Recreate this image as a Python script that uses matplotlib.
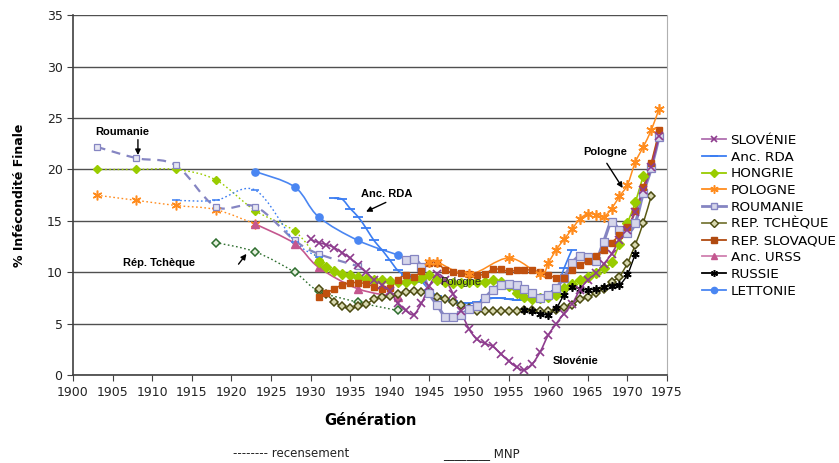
import numpy as np
import matplotlib.pyplot as plt
from matplotlib.path import Path
from matplotlib.patches import PathPatch
from matplotlib.lines import Line2D

# --- recensement (census) cohorts, dotted/dashed ---
hon_rec_x = [1903, 1908, 1913, 1918, 1923, 1928, 1931]
hon_rec_y = [20.0, 20.0, 20.0, 19.0, 16.0, 14.0, 11.2]
pol_rec_x = [1903, 1908, 1913, 1918, 1923]
pol_rec_y = [17.5, 17.0, 16.5, 16.1, 14.7]
rou_rec_x = [1903, 1908, 1913, 1918, 1923, 1928, 1931, 1936]
rou_rec_y = [22.2, 21.1, 20.4, 16.4, 16.4, 13.1, 11.8, 10.6]
rda_rec_x = [1913, 1918, 1923, 1928, 1931]
rda_rec_y = [17.0, 17.0, 18.0, 13.0, 11.5]
tch_rec_x = [1918, 1923, 1928, 1931, 1936, 1941]
tch_rec_y = [12.9, 12.0, 10.0, 8.2, 7.1, 6.3]

# --- MNP cohorts, solid ---
slo_x = list(range(1930, 1975))
slo_y = [13.2, 12.9, 12.7, 12.4, 11.9, 11.4, 10.7, 10.0, 9.3, 8.8,
         8.2, 7.0, 6.3, 5.9, 7.0, 8.7, 9.8, 9.3, 7.9, 6.2,
         4.5, 3.5, 3.1, 2.8, 2.1, 1.4, 0.8, 0.5, 1.1, 2.3,
         3.9, 5.0, 6.0, 6.9, 8.3, 9.3, 9.9, 10.8, 11.8, 13.1,
         14.1, 15.9, 18.0, 20.2, 23.3]
rda_x = list(range(1933, 1964))
rda_y = [17.2, 17.1, 16.2, 15.4, 14.3, 13.1, 12.2, 11.2, 10.2, 9.7,
         9.4, 9.1, 8.3, 7.7, 7.4, 7.2, 7.0, 7.0, 7.1, 7.3,
         7.5, 7.5, 7.4, 7.3, 7.4, 7.4, 7.5, 7.6, 8.2, 10.4,
         12.2]
hon_x = list(range(1931, 1973))
hon_y = [11.0, 10.5, 10.1, 9.8, 9.7, 9.6, 9.4, 9.3, 9.25, 9.2,
         9.1, 9.1, 9.3, 9.5, 9.7, 9.3, 9.1, 9.0, 9.0, 9.1,
         9.1, 9.1, 9.3, 9.1, 8.7, 8.0, 7.6, 7.4, 7.5, 7.6,
         7.8, 8.5, 8.9, 9.3, 9.6, 9.9, 10.4, 11.0, 12.8, 14.8,
         16.8, 19.4]
pol_x = [1945, 1946, 1950, 1955, 1959, 1960, 1961, 1962, 1963, 1964,
         1965, 1966, 1967, 1968, 1969, 1970, 1971, 1972, 1973, 1974]
pol_y = [11.0, 11.0, 9.8, 11.4, 9.85, 10.9, 12.2, 13.2, 14.2, 15.2,
         15.7, 15.6, 15.4, 16.2, 17.4, 18.5, 20.7, 22.2, 23.8, 25.9]
rou_x = list(range(1942, 1975))
rou_y = [11.2, 11.3, 10.5, 8.0, 6.8, 5.7, 5.7, 5.9, 6.4, 6.7,
         7.5, 8.3, 8.8, 8.9, 8.8, 8.4, 8.0, 7.5, 7.8, 8.5,
         9.5, 10.9, 11.6, 11.5, 11.1, 13.0, 14.9, 14.1, 13.8, 14.8,
         17.7, 20.1, 23.2]
tch_x = list(range(1931, 1974))
tch_y = [8.4, 7.9, 7.15, 6.7, 6.5, 6.7, 6.9, 7.4, 7.6, 7.7,
         7.9, 8.1, 8.2, 8.1, 8.0, 7.6, 7.4, 7.15, 6.8, 6.5,
         6.25, 6.25, 6.25, 6.25, 6.25, 6.25, 6.3, 6.3, 6.25, 6.2,
         6.35, 6.6, 6.8, 7.4, 7.6, 8.0, 8.4, 9.1, 9.6, 10.9,
         12.7, 14.8, 17.4]
slq_x = list(range(1931, 1975))
slq_y = [7.6, 8.0, 8.4, 8.8, 9.0, 9.0, 8.9, 8.6, 8.4, 8.45,
         9.3, 9.75, 9.6, 10.1, 10.95, 10.95, 10.2, 10.0, 9.9, 9.8,
         9.7, 9.85, 10.3, 10.3, 10.1, 10.2, 10.25, 10.2, 10.0, 9.7,
         9.5, 9.5, 10.2, 10.7, 11.1, 11.6, 12.2, 12.9, 13.6, 14.4,
         16.0, 18.3, 20.6, 23.8]
urs_x = [1923, 1928, 1931, 1936, 1941]
urs_y = [14.7, 12.8, 10.5, 8.4, 7.6]
rus_x = list(range(1957, 1972))
rus_y = [6.3, 6.2, 6.0, 5.9, 6.5, 7.8, 8.6, 8.4, 8.3, 8.4,
         8.6, 8.7, 8.8, 9.8, 11.8]
let_x = [1923, 1928, 1931, 1936, 1941]
let_y = [19.8, 18.3, 15.4, 13.1, 11.7]

C_SLO = '#8E3C8E'
C_RDA = '#3B7DF2'
C_HON = '#99CC00'
C_POL = '#FF8C1E'
C_ROU = '#8585C2'
C_TCH = '#5A5A14'
C_TCH_REC = '#2E6E2E'
C_SLQ = '#C0500E'
C_URS = '#C4578F'
C_RUS = '#000000'
C_LET = '#4A86F2'

STAR = (6, 2, 0)


def smooth_path(x, y):
    # Bezier segments through the points (Excel style smoothed line)
    pts = np.column_stack([x, y]).astype(float)
    n = len(pts)
    verts = [pts[0]]
    codes = [Path.MOVETO]
    for i in range(n - 1):
        p0 = pts[i - 1] if i > 0 else pts[i]
        p1 = pts[i]
        p2 = pts[i + 1]
        p3 = pts[i + 2] if i + 2 < n else pts[i + 1]
        c1 = p1 + (p2 - p0) / 6.0
        c2 = p2 - (p3 - p1) / 6.0
        verts += [c1, c2, p2]
        codes += [Path.CURVE4] * 3
    return Path(verts, codes)


def draw(ax, x, y, color, ls='-', lw=1.1, marker=None, ms=4, mfc=None, mec=None, mew=1.0, z=2):
    ax.add_patch(PathPatch(smooth_path(x, y), fill=False, edgecolor=color,
                           linestyle=ls, linewidth=lw, zorder=z))
    if marker:
        ax.plot(x, y, linestyle='none', marker=marker, markersize=ms,
                markerfacecolor=mfc or color, markeredgecolor=mec or color,
                markeredgewidth=mew, zorder=z + 0.5)


fig = plt.figure(figsize=(8.39, 4.63), dpi=100)
ax = fig.add_axes([0.087, 0.1894, 0.708, 0.778])

dot = (0, (1.2, 1.8))
dash = (0, (4, 3))

# census curves
draw(ax, hon_rec_x, hon_rec_y, C_HON, ls=dot, lw=1.0, marker='D', ms=4.2)
draw(ax, pol_rec_x, pol_rec_y, C_POL, ls=dot, lw=1.0, marker=STAR, ms=7, mew=1.1)
draw(ax, rou_rec_x, rou_rec_y, C_ROU, ls=dash, lw=1.6, marker='s', ms=4.8,
     mfc='#E6E6F2', mec=C_ROU, mew=0.9)
draw(ax, rda_rec_x, rda_rec_y, C_RDA, ls=dot, lw=1.0, marker='_', ms=6, mew=1.1)
draw(ax, tch_rec_x, tch_rec_y, C_TCH_REC, ls=dot, lw=1.0, marker='D', ms=4.2,
     mfc='#E8F0E0', mec=C_TCH_REC, mew=1.1)

# MNP curves
draw(ax, let_x, let_y, C_LET, lw=1.2, marker='o', ms=5.2)
draw(ax, urs_x, urs_y, C_URS, lw=1.2, marker='^', ms=5.2)
draw(ax, rda_x, rda_y, C_RDA, lw=1.2, marker='_', ms=7, mew=1.3)
draw(ax, tch_x, tch_y, C_TCH, lw=1.1, marker='D', ms=4.4,
     mfc='#D8D8B0', mec='#4A4A10', mew=1.1)
draw(ax, hon_x, hon_y, C_HON, lw=1.2, marker='D', ms=4.6)
draw(ax, rou_x, rou_y, C_ROU, lw=2.3, marker='s', ms=5.2,
     mfc='#D6D6EA', mec=C_ROU, mew=0.9)
draw(ax, slq_x, slq_y, C_SLQ, lw=1.1, marker='s', ms=5.0)
draw(ax, rus_x, rus_y, C_RUS, lw=1.0, marker=STAR, ms=6, mew=1.2)
draw(ax, pol_x, pol_y, C_POL, lw=1.1, marker=STAR, ms=7.5, mew=1.2)
draw(ax, slo_x, slo_y, C_SLO, lw=1.2, marker='x', ms=5.5, mew=1.2)

ax.set_xlim(1900, 1975)
ax.set_ylim(0, 35)
ax.set_xticks(np.arange(1900, 1976, 5))
ax.set_yticks(np.arange(0, 36, 5))
ax.tick_params(direction='out', length=4, color='#404040', labelsize=9,
               labelcolor='#222222')
ax.yaxis.grid(True, color='#505050', linewidth=1.0)
ax.set_axisbelow(True)
for side in ['left', 'bottom']:
    ax.spines[side].set_color('#404040')
    ax.spines[side].set_linewidth(1.2)
ax.spines['top'].set_visible(False)
ax.spines['right'].set_color('#B0B0B0')

ax.set_ylabel('% Infécondité Finale', fontsize=9, fontweight='bold', labelpad=15)
ax.set_xlabel('Génération', fontsize=10.5, fontweight='bold', labelpad=10)

# annotations
bold = dict(fontsize=8, fontweight='bold', family='Liberation Sans')
arrow = dict(arrowstyle='-|>', color='black', lw=1, mutation_scale=8, shrinkA=0, shrinkB=0)
ax.text(1906.2, 23.6, 'Roumanie', ha='center', va='center', **bold)
ax.annotate('', xy=(1908.2, 21.4), xytext=(1908.2, 22.9), arrowprops=arrow)
ax.text(1910.8, 10.9, 'Rép. Tchèque', ha='center', va='center', **bold)
ax.annotate('', xy=(1921.9, 11.8), xytext=(1920.9, 10.8), arrowprops=arrow)
ax.text(1939.6, 17.6, 'Anc. RDA', ha='center', va='center', **bold)
ax.annotate('', xy=(1937.0, 15.9), xytext=(1939.5, 16.8), arrowprops=arrow)
ax.text(1967.2, 21.7, 'Pologne', ha='center', va='center', **bold)
ax.annotate('', xy=(1969.4, 18.2), xytext=(1967.4, 20.6), arrowprops=arrow)
ax.text(1963.5, 1.4, 'Slovénie', ha='center', va='center', **bold)
ax.text(1948.9, 9.1, 'Pologne', ha='center', va='center', fontsize=8,
        family='Liberation Sans', color='#222222')

# legend
entries = [
    ('SLOVÉNIE', dict(color='#B070B0', marker='x', mec=C_SLO, ms=5, mew=1.2)),
    ('Anc. RDA', dict(color=C_RDA, marker='_', ms=6, mew=1.3)),
    ('HONGRIE', dict(color=C_HON, marker='D', ms=4)),
    ('POLOGNE', dict(color=C_POL, marker=STAR, ms=6, mew=1.1)),
    ('ROUMANIE', dict(color=C_ROU, marker='s', ms=4.5, mfc='#D6D6EA', lw=2.0)),
    ('REP. TCHÈQUE', dict(color='#7A7A3A', marker='D', ms=4, mfc='#D8D8B0', mec='#4A4A10')),
    ('REP. SLOVAQUE', dict(color='#B04A10', marker='s', ms=4.5)),
    ('Anc. URSS', dict(color='#D080B0', marker='^', mfc=C_URS, mec=C_URS, ms=5)),
    ('RUSSIE', dict(color='black', marker=STAR, ms=5, mew=1.1)),
    ('LETTONIE', dict(color=C_LET, marker='o', ms=4.5)),
]
handles = []
for name, kw in entries:
    kw.setdefault('lw', 1.3)
    handles.append(Line2D([], [], label=name, **kw))
fig.legend(handles=handles, loc='upper left', bbox_to_anchor=(0.837, 0.711),
           frameon=False, fontsize=9.7, handlelength=1.8, handletextpad=0.3,
           labelspacing=0.28, borderaxespad=0, borderpad=0)

fig.text(0.278, 0.013, '-------- recensement', fontsize=8.5, color='#222222')
fig.text(0.528, 0.013, '________ MNP', fontsize=8.5, color='#222222')

fig.savefig('out.png', dpi=100)
